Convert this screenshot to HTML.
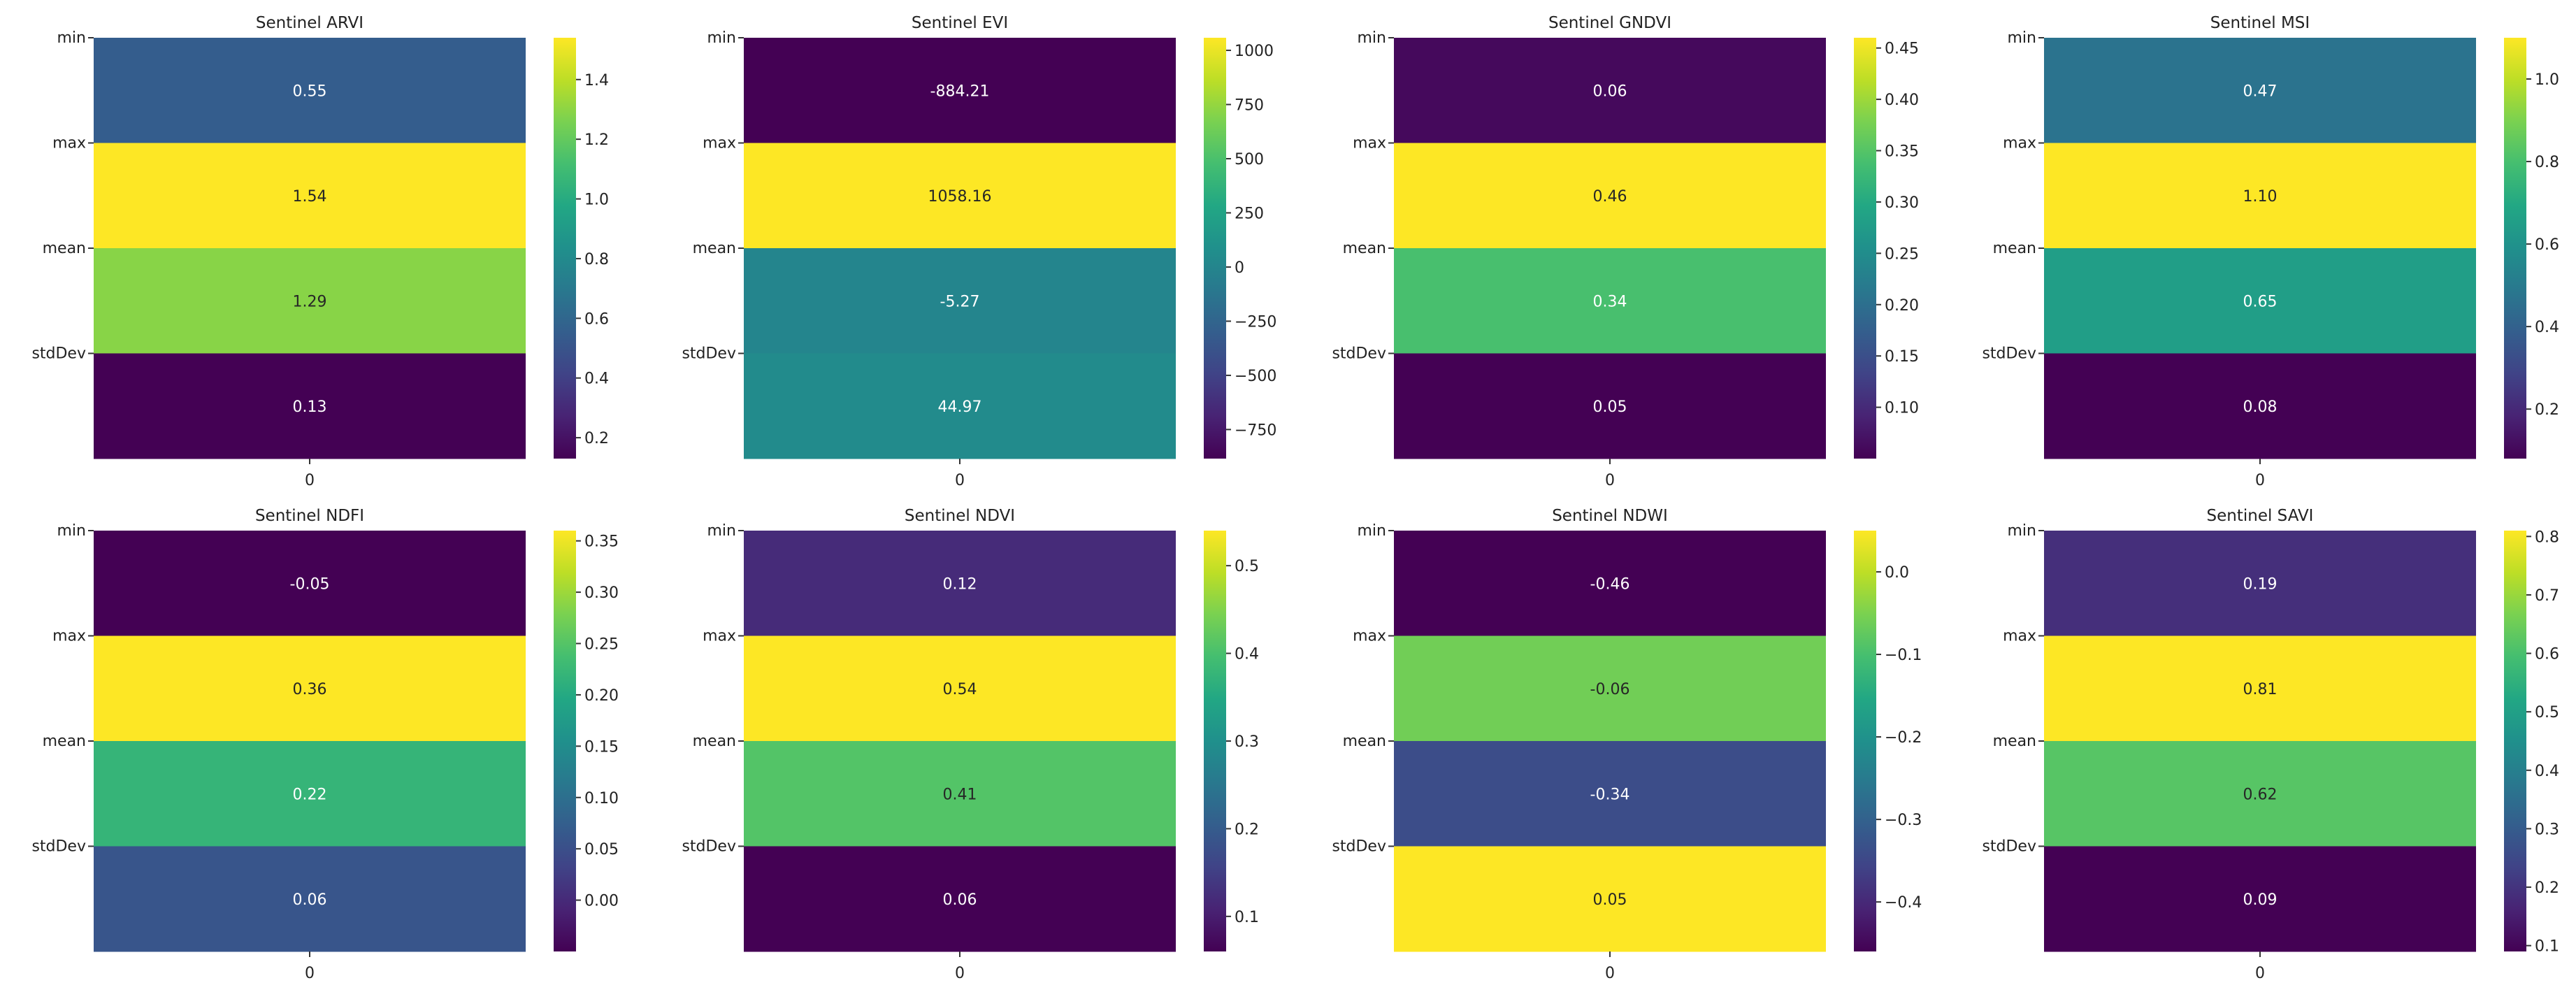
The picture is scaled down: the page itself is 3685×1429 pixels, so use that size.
<!DOCTYPE html>
<html><head><meta charset="utf-8"><style>
html,body{margin:0;padding:0;background:#fff;}
svg{display:block;font-family:"DejaVu Sans","Liberation Sans",sans-serif;}
</style></head><body>
<svg id="fig" width="3685" height="1429" viewBox="0 0 3685 1429" xmlns="http://www.w3.org/2000/svg"></svg>
<script>
// ---- data ----
const titles = ["Sentinel ARVI","Sentinel EVI","Sentinel GNDVI","Sentinel MSI","Sentinel NDFI","Sentinel NDVI","Sentinel NDWI","Sentinel SAVI"];
const rowLabels = ["min","max","mean","stdDev"];
const valsARVI = [0.55,1.54,1.29,0.13];
const valsEVI = [-884.21,1058.16,-5.27,44.97];
const valsGNDVI = [0.06,0.46,0.34,0.05];
const valsMSI = [0.47,1.10,0.65,0.08];
const valsNDFI = [-0.05,0.36,0.22,0.06];
const valsNDVI = [0.12,0.54,0.41,0.06];
const valsNDWI = [-0.46,-0.06,-0.34,0.05];
const valsSAVI = [0.19,0.81,0.62,0.09];
const ticksARVI = [0.2,0.4,0.6,0.8,1.0,1.2,1.4];
const ticksEVI = [-750,-500,-250,0,250,500,750,1000];
const ticksGNDVI = [0.10,0.15,0.20,0.25,0.30,0.35,0.40,0.45];
const ticksMSI = [0.2,0.4,0.6,0.8,1.0];
const ticksNDFI = [0.00,0.05,0.10,0.15,0.20,0.25,0.30,0.35];
const ticksNDVI = [0.1,0.2,0.3,0.4,0.5];
const ticksNDWI = [-0.4,-0.3,-0.2,-0.1,0.0];
const ticksSAVI = [0.1,0.2,0.3,0.4,0.5,0.6,0.7,0.8];
const tickDecimals = [1,0,2,1,2,1,1,1];
const allVals = [valsARVI,valsEVI,valsGNDVI,valsMSI,valsNDFI,valsNDVI,valsNDWI,valsSAVI];
const allTicks = [ticksARVI,ticksEVI,ticksGNDVI,ticksMSI,ticksNDFI,ticksNDVI,ticksNDWI,ticksSAVI];

const NS="http://www.w3.org/2000/svg";
const svg=document.getElementById('fig');
const vir=[[68,1,84],[72,35,116],[64,67,135],[52,94,141],[41,120,142],[32,144,140],[34,167,132],[68,190,112],[121,209,81],[189,222,38],[253,231,37]];
function viridis(t){t=Math.max(0,Math.min(1,t));const p=t*10,i=Math.min(9,Math.floor(p)),f=p-i;
 const c=vir[i].map((v,k)=>Math.round(v+(vir[i+1][k]-v)*f));return c;}
function relLum(c){const l=c.map(v=>{v/=255;return v<=0.03928?v/12.92:Math.pow((v+0.055)/1.055,2.4);});return 0.2126*l[0]+0.7152*l[1]+0.0722*l[2];}
function el(tag,attrs,parent){const e=document.createElementNS(NS,tag);for(const k in attrs)e.setAttribute(k,attrs[k]);(parent||svg).appendChild(e);return e;}
function fmtTick(v,d){let s=v.toFixed(d);if(v<0&&parseFloat(s)!==0)s='\u2212'+s.slice(1);if(parseFloat(s)===0)s=(0).toFixed(d);return s;}

const colX=[134,1064,1994,2924], W=618, rowY=[[54,656],[759,1361]];
allVals.forEach((vals,p)=>{
 const col=p%4,row=Math.floor(p/4);
 const x0=colX[col],y0=rowY[row][0],y1=rowY[row][1],H=y1-y0,rh=H/vals.length;
 const vmin=Math.min(...vals),vmax=Math.max(...vals);
 const norm=v=>(v-vmin)/(vmax-vmin);
 const g=el('g',{});
 
 
 const t=el('text',{x:x0+W/2,y:y0-14,'text-anchor':'middle','font-size':23,fill:'#222'},g);
 t.textContent=titles[p];
 
 
 vals.forEach((v,i)=>{
  const c=viridis(norm(v));
  const r=el('rect',{x:x0,y:y0+i*rh,width:W,height:rh+0.5,fill:`rgb(${c})`},g);
  
  
  const tx=el('text',{x:x0+W/2,y:y0+i*rh+rh/2+8,'text-anchor':'middle','font-size':22,fill:relLum(c)>0.408?'#262626':'#ffffff'},g);
  tx.textContent=v.toFixed(2);
  
  
  el('line',{x1:x0-8,x2:x0,y1:y0+i*rh,y2:y0+i*rh,stroke:'#333','stroke-width':2},g);
  const yl=el('text',{x:x0-11,y:y0+i*rh+7,'text-anchor':'end','font-size':22,fill:'#222'},g);
  yl.textContent=rowLabels[i];
  
  
 });
 el('line',{x1:x0+W/2,x2:x0+W/2,y1:y1,y2:y1+8,stroke:'#333','stroke-width':2},g);
 const xl=el('text',{x:x0+W/2,y:y1+38,'text-anchor':'middle','font-size':22,fill:'#222'},g);
 xl.textContent='0';
 
 
 // colorbar
 const cx=x0+658,cw=32;
 const gid='grad'+p;
 const defs=el('defs',{},g);
 const lg=el('linearGradient',{id:gid,x1:0,y1:1,x2:0,y2:0},defs);
 for(let k=0;k<=10;k++)el('stop',{offset:k/10,'stop-color':`rgb(${vir[k]})`},lg);
 const cb=el('rect',{x:cx,y:y0,width:cw,height:H,fill:`url(#${gid})`},g);
 
 
 allTicks[p].forEach(tv=>{
  const ty=y1-norm(tv)*H;
  el('line',{x1:cx+cw,x2:cx+cw+7,y1:ty,y2:ty,stroke:'#333','stroke-width':2},g);
  const lt=el('text',{x:cx+cw+12,y:ty+8,'font-size':22,fill:'#222'},g);
  lt.textContent=fmtTick(tv,tickDecimals[p]);
  
  
 });
});
</script>
</body></html>
